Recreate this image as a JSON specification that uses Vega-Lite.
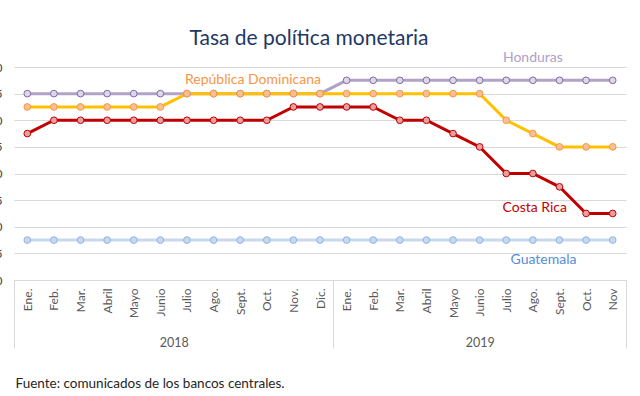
{
  "$schema": "https://vega.github.io/schema/vega-lite/v6.json",
  "width": 612,
  "height": 213,
  "autosize": {"type": "none"},
  "padding": {"left": 14, "top": 67, "right": 14, "bottom": 116},
  "background": "white",
  "config": {
    "view": {"stroke": null},
    "font": "Lato",
    "axisY": {"grid": true, "gridColor": "#D9D9D9", "tickCount": 8, "domainColor": "transparent", "tickColor": "transparent", "tickSize": 0, "labelPadding": 12, "labelFontSize": 12, "labelColor": "#404040", "labelFont": "Lato", "format": ".1f"}
  },
  "title": {"text": "Tasa de política monetaria", "font": "Lato", "fontSize": 21, "fontWeight": "normal", "color": "#1F3864", "anchor": "middle", "offset": 2, "dx": -11},
  "datasets": {
    "tpm": [
      {"s": "Honduras", "i": 0, "v": 5.5}, {"s": "Honduras", "i": 1, "v": 5.5}, {"s": "Honduras", "i": 2, "v": 5.5}, {"s": "Honduras", "i": 3, "v": 5.5}, {"s": "Honduras", "i": 4, "v": 5.5}, {"s": "Honduras", "i": 5, "v": 5.5}, {"s": "Honduras", "i": 6, "v": 5.5}, {"s": "Honduras", "i": 7, "v": 5.5}, {"s": "Honduras", "i": 8, "v": 5.5}, {"s": "Honduras", "i": 9, "v": 5.5}, {"s": "Honduras", "i": 10, "v": 5.5}, {"s": "Honduras", "i": 11, "v": 5.5},
      {"s": "Honduras", "i": 12, "v": 5.75}, {"s": "Honduras", "i": 13, "v": 5.75}, {"s": "Honduras", "i": 14, "v": 5.75}, {"s": "Honduras", "i": 15, "v": 5.75}, {"s": "Honduras", "i": 16, "v": 5.75}, {"s": "Honduras", "i": 17, "v": 5.75}, {"s": "Honduras", "i": 18, "v": 5.75}, {"s": "Honduras", "i": 19, "v": 5.75}, {"s": "Honduras", "i": 20, "v": 5.75}, {"s": "Honduras", "i": 21, "v": 5.75}, {"s": "Honduras", "i": 22, "v": 5.75},
      {"s": "República Dominicana", "i": 0, "v": 5.25}, {"s": "República Dominicana", "i": 1, "v": 5.25}, {"s": "República Dominicana", "i": 2, "v": 5.25}, {"s": "República Dominicana", "i": 3, "v": 5.25}, {"s": "República Dominicana", "i": 4, "v": 5.25}, {"s": "República Dominicana", "i": 5, "v": 5.25},
      {"s": "República Dominicana", "i": 6, "v": 5.5}, {"s": "República Dominicana", "i": 7, "v": 5.5}, {"s": "República Dominicana", "i": 8, "v": 5.5}, {"s": "República Dominicana", "i": 9, "v": 5.5}, {"s": "República Dominicana", "i": 10, "v": 5.5}, {"s": "República Dominicana", "i": 11, "v": 5.5}, {"s": "República Dominicana", "i": 12, "v": 5.5}, {"s": "República Dominicana", "i": 13, "v": 5.5}, {"s": "República Dominicana", "i": 14, "v": 5.5}, {"s": "República Dominicana", "i": 15, "v": 5.5}, {"s": "República Dominicana", "i": 16, "v": 5.5}, {"s": "República Dominicana", "i": 17, "v": 5.5},
      {"s": "República Dominicana", "i": 18, "v": 5.0}, {"s": "República Dominicana", "i": 19, "v": 4.75}, {"s": "República Dominicana", "i": 20, "v": 4.5}, {"s": "República Dominicana", "i": 21, "v": 4.5}, {"s": "República Dominicana", "i": 22, "v": 4.5},
      {"s": "Costa Rica", "i": 0, "v": 4.75}, {"s": "Costa Rica", "i": 1, "v": 5.0}, {"s": "Costa Rica", "i": 2, "v": 5.0}, {"s": "Costa Rica", "i": 3, "v": 5.0}, {"s": "Costa Rica", "i": 4, "v": 5.0}, {"s": "Costa Rica", "i": 5, "v": 5.0}, {"s": "Costa Rica", "i": 6, "v": 5.0}, {"s": "Costa Rica", "i": 7, "v": 5.0}, {"s": "Costa Rica", "i": 8, "v": 5.0}, {"s": "Costa Rica", "i": 9, "v": 5.0},
      {"s": "Costa Rica", "i": 10, "v": 5.25}, {"s": "Costa Rica", "i": 11, "v": 5.25}, {"s": "Costa Rica", "i": 12, "v": 5.25}, {"s": "Costa Rica", "i": 13, "v": 5.25}, {"s": "Costa Rica", "i": 14, "v": 5.0}, {"s": "Costa Rica", "i": 15, "v": 5.0}, {"s": "Costa Rica", "i": 16, "v": 4.75}, {"s": "Costa Rica", "i": 17, "v": 4.5}, {"s": "Costa Rica", "i": 18, "v": 4.0}, {"s": "Costa Rica", "i": 19, "v": 4.0}, {"s": "Costa Rica", "i": 20, "v": 3.75}, {"s": "Costa Rica", "i": 21, "v": 3.25}, {"s": "Costa Rica", "i": 22, "v": 3.25},
      {"s": "Guatemala", "i": 0, "v": 2.75}, {"s": "Guatemala", "i": 1, "v": 2.75}, {"s": "Guatemala", "i": 2, "v": 2.75}, {"s": "Guatemala", "i": 3, "v": 2.75}, {"s": "Guatemala", "i": 4, "v": 2.75}, {"s": "Guatemala", "i": 5, "v": 2.75}, {"s": "Guatemala", "i": 6, "v": 2.75}, {"s": "Guatemala", "i": 7, "v": 2.75}, {"s": "Guatemala", "i": 8, "v": 2.75}, {"s": "Guatemala", "i": 9, "v": 2.75}, {"s": "Guatemala", "i": 10, "v": 2.75}, {"s": "Guatemala", "i": 11, "v": 2.75},
      {"s": "Guatemala", "i": 12, "v": 2.75}, {"s": "Guatemala", "i": 13, "v": 2.75}, {"s": "Guatemala", "i": 14, "v": 2.75}, {"s": "Guatemala", "i": 15, "v": 2.75}, {"s": "Guatemala", "i": 16, "v": 2.75}, {"s": "Guatemala", "i": 17, "v": 2.75}, {"s": "Guatemala", "i": 18, "v": 2.75}, {"s": "Guatemala", "i": 19, "v": 2.75}, {"s": "Guatemala", "i": 20, "v": 2.75}, {"s": "Guatemala", "i": 21, "v": 2.75}, {"s": "Guatemala", "i": 22, "v": 2.75}
    ],
    "labels": [
      {"s": "Honduras", "x": 19.0, "y": 6.16},
      {"s": "República Dominicana", "x": 8.48, "y": 5.75},
      {"s": "Costa Rica", "x": 19.07, "y": 3.345},
      {"s": "Guatemala", "x": 19.4, "y": 2.375}
    ],
    "years": [{"p": -0.5}, {"p": 5.5}, {"p": 11.5}, {"p": 17}, {"p": 22.5}]
  },
  "layer": [
    {
      "data": {"name": "years"},
      "mark": {"type": "point", "opacity": 0},
      "encoding": {
        "x": {
          "field": "p", "type": "quantitative",
          "scale": {"domain": [-0.5, 22.5], "nice": false, "zero": false},
          "axis": {
            "orient": "bottom",
            "values": [-0.5, 5.5, 11.5, 17, 22.5],
            "domain": false, "grid": false, "ticks": true, "tickSize": 68,
            "tickColor": {"condition": {"test": "datum.value == 5.5 || datum.value == 17", "value": "transparent"}, "value": "#D9D9D9"},
            "labelExpr": "datum.value == 5.5 ? '2018' : datum.value == 17 ? '2019' : ''",
            "labelAngle": 0, "labelBaseline": "alphabetic", "labelPadding": -2,
            "labelFontSize": 12.5, "labelColor": "#595959", "labelFont": "Lato",
            "labelFlush": false, "labelOverlap": false, "labelBound": false,
            "title": "Fuente: comunicados de los bancos centrales.",
            "titleX": 1, "titleY": 107, "titleAlign": "left", "titleAnchor": "start", "titleBaseline": "alphabetic",
            "titleFontSize": 13.5, "titleFontWeight": "normal", "titleColor": "#262626", "titleFont": "Lato"
          }
        }
      }
    },
    {
      "data": {"name": "tpm"},
      "mark": {"type": "line", "strokeWidth": 3},
      "encoding": {
        "x": {
          "field": "i", "type": "quantitative",
          "scale": {"domain": [-0.5, 22.5], "nice": false, "zero": false},
          "axis": {
            "orient": "bottom",
            "values": [0, 1, 2, 3, 4, 5, 6, 7, 8, 9, 10, 11, 12, 13, 14, 15, 16, 17, 18, 19, 20, 21, 22],
            "labelExpr": "['Ene.','Feb.','Mar.','Abril','Mayo','Junio','Julio','Ago.','Sept.','Oct.','Nov.','Dic.','Ene.','Feb.','Mar.','Abril','Mayo','Junio','Julio','Ago.','Sept.','Oct.','Nov'][datum.value]",
            "labelAngle": -90, "labelPadding": 8, "ticks": false, "grid": false,
            "domainColor": "#D9D9D9", "labelFontSize": 12, "labelColor": "#595959", "labelFont": "Lato",
            "labelFlush": false, "labelOverlap": false, "labelBound": false, "title": null
          }
        },
        "y": {
          "field": "v", "type": "quantitative", "title": null,
          "scale": {"domain": [2, 6], "nice": false, "zero": false}
        },
        "color": {
          "field": "s", "type": "nominal", "legend": null,
          "scale": {"domain": ["Honduras", "República Dominicana", "Costa Rica", "Guatemala"], "range": ["#B3A2C7", "#FFC000", "#C00000", "#C6D9F1"]}
        }
      }
    },
    {
      "data": {"name": "tpm"},
      "mark": {"type": "point", "shape": "circle", "filled": true, "size": 45, "strokeWidth": 1, "opacity": 1},
      "encoding": {
        "x": {"field": "i", "type": "quantitative", "axis": null},
        "y": {"field": "v", "type": "quantitative", "title": null},
        "fill": {
          "field": "s", "type": "nominal", "legend": null,
          "scale": {"domain": ["Honduras", "República Dominicana", "Costa Rica", "Guatemala"], "range": ["#DDD7EA", "#FAC090", "#E6A0A0", "#C6D9F1"]}
        },
        "stroke": {
          "field": "s", "type": "nominal", "legend": null,
          "scale": {"domain": ["Honduras", "República Dominicana", "Costa Rica", "Guatemala"], "range": ["#7F6A9F", "#F79646", "#C00000", "#95B3D7"]}
        }
      }
    },
    {
      "data": {"name": "labels"},
      "mark": {"type": "text", "font": "Lato", "fontSize": 14, "align": "center", "baseline": "middle"},
      "encoding": {
        "x": {"field": "x", "type": "quantitative", "axis": null},
        "y": {"field": "y", "type": "quantitative", "title": null},
        "text": {"field": "s"},
        "color": {
          "field": "s", "type": "nominal", "legend": null,
          "scale": {"domain": ["Honduras", "República Dominicana", "Costa Rica", "Guatemala"], "range": ["#B1A0C7", "#F79646", "#C00000", "#558ED5"]}
        }
      }
    }
  ],
  "resolve": {"scale": {"color": "independent"}, "axis": {"x": "independent"}}
}
